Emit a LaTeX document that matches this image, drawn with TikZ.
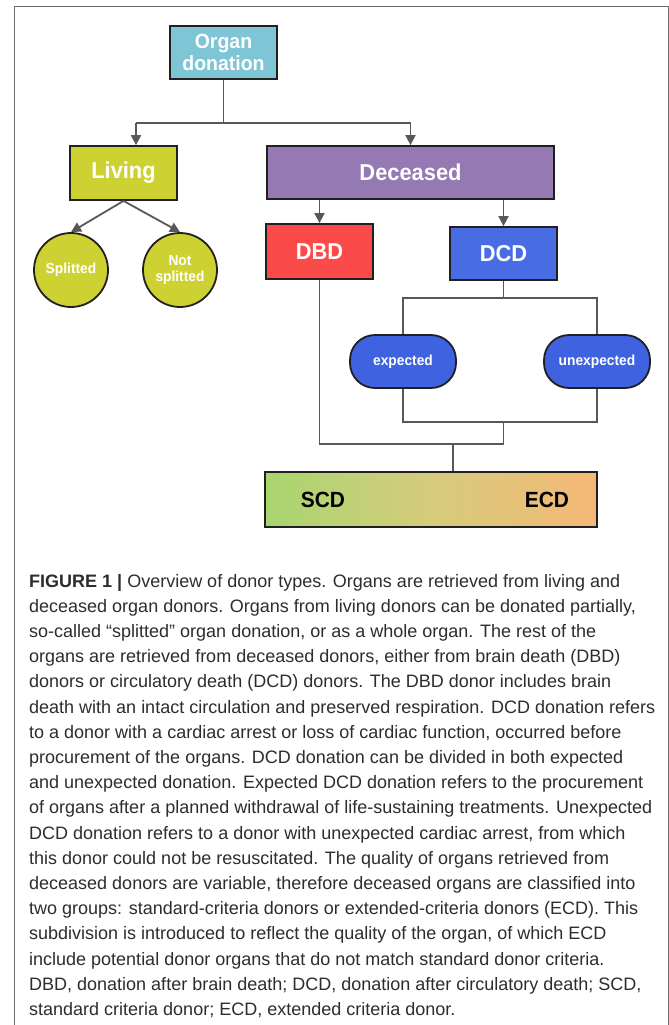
\documentclass[tikz,border=0pt]{standalone}
\usepackage{fontspec}
\setmainfont{Liberation Sans}
\newfontfamily\dfont[FakeStretch=0.95]{Liberation Sans}
\newfontfamily\cfont{Liberation Sans}
\usetikzlibrary{arrows.meta,positioning}
\definecolor{orgc}{RGB}{126,197,214}
\definecolor{livc}{RGB}{205,210,50}
\definecolor{decc}{RGB}{148,121,178}
\definecolor{dbdc}{RGB}{250,74,74}
\definecolor{dcdc}{RGB}{72,108,228}
\definecolor{expc}{RGB}{62,98,224}
\definecolor{barl}{RGB}{168,213,112}
\definecolor{barm}{RGB}{214,204,124}
\definecolor{barr}{RGB}{245,184,118}
\definecolor{linec}{RGB}{88,88,88}
\definecolor{edgec}{RGB}{32,32,32}
\definecolor{capc}{RGB}{45,45,45}
\definecolor{framec}{RGB}{110,110,110}
\tikzset{
  box/.style={draw=edgec, line width=1.8pt, rectangle, inner sep=0pt, text=white,
    font=\dfont\bfseries\fontsize{23}{25}\selectfont, align=center},
  blob/.style={draw=edgec, line width=1.8pt, circle, minimum size=74pt, inner sep=0pt,
    fill=livc, text=white, font=\dfont\bfseries\fontsize{14.5}{16.5}\selectfont, align=center},
  pill/.style={draw=edgec, line width=1.8pt, rectangle, rounded corners=25pt,
    minimum width=106pt, minimum height=53pt, inner sep=0pt, fill=expc, text=white,
    font=\dfont\bfseries\fontsize{14.5}{16.5}\selectfont},
  conn/.style={draw=linec, line width=1.8pt},
  arr/.style={conn, -{Triangle[length=10pt,width=10pt]}},
  captxt/.style={anchor=base west, inner sep=0pt, text=capc, font=\cfont\fontsize{18}{25}\selectfont},
}
\begin{document}
\begin{tikzpicture}[x=1pt,y=-1pt]
\useasboundingbox (0,0) rectangle (669,1025);
\fill[white] (0,0) rectangle (669,1025);
\draw[framec, line width=1pt] (14,1026) -- (14,7) -- (668,7) -- (668,1026);

% nodes
\node[box, fill=orgc, minimum width=107pt, minimum height=53pt,
      font=\dfont\bfseries\fontsize{20.5}{21.5}\selectfont] (org) at (223.5,52.5) {Organ\\donation};
\node[box, fill=livc, minimum width=107pt, minimum height=54pt] (liv) at (123.5,173) {Living};
\node[box, fill=decc, minimum width=287pt, minimum height=53pt] (dec) at (410.5,172.5) {Deceased};
\node[box, fill=dbdc, minimum width=107pt, minimum height=55pt] (dbd) at (319.5,251.5) {DBD};
\node[box, fill=dcdc, minimum width=107pt, minimum height=53pt] (dcd) at (503.5,253.5) {DCD};
\node[blob] (spl) at (71,270) {Splitted};
\node[blob] (nsp) at (180,270) {Not\\splitted};
\node[pill] (exp) at (403,361.5) {expected};
\node[pill] (unx) at (597,361.5) {unexpected};
\node[draw=edgec, line width=1.8pt, rectangle, minimum width=332pt, minimum height=55pt,
      left color=barl, right color=barr, middle color=barm] (bar) at (431,499.5) {};
\node[font=\dfont\bfseries\fontsize{22}{24}\selectfont, text=black] (scd) at (323,500) {SCD};
\node[font=\dfont\bfseries\fontsize{22}{24}\selectfont, text=black] (ecd) at (547,500) {ECD};

% connectors
\coordinate (jL) at (136,123);
\coordinate (jR) at (dec.north |- jL);
\draw[conn] (org.south) -- (org.south |- jL);
\draw[conn] (jL) -- (jR);
\draw[arr] (jL) -- (jL |- liv.north);
\draw[arr] (jR) -- (dec.north);
\draw[arr] (liv.south) -- (spl.north);
\draw[arr] (liv.south) -- (nsp.north);
\draw[arr] (dbd.north |- dec.south) -- (dbd.north);
\draw[arr] (dcd.north |- dec.south) -- (dcd.north);

\coordinate (jD) at (503.5,298);
\draw[conn] (dcd.south) -- (jD);
\draw[conn] (exp.north) -- (exp.north |- jD) -- (unx.north |- jD) -- (unx.north);
\coordinate (jE) at (503.5,422);
\draw[conn] (exp.south) -- (exp.south |- jE) -- (unx.south |- jE) -- (unx.south);
\coordinate (jF) at (503.5,444);
\draw[conn] (jE) -- (jF);
\draw[conn] (dbd.south) -- (dbd.south |- jF) -- (jF);
\coordinate (jB) at (453,444);
\draw[conn] (jB) -- (jB |- bar.north);

% caption
\node[captxt] (c1) at (29,587) {{\bfseries FIGURE 1 |} Overview of donor types. Organs are retrieved from living and};
\node[captxt] (c2) at (29,612.2) {deceased organ donors. Organs from living donors can be donated partially,};
\node[captxt] (c3) at (29,637.4) {so-called “splitted” organ donation, or as a whole organ. The rest of the};
\node[captxt] (c4) at (29,662.6) {organs are retrieved from deceased donors, either from brain death (DBD)};
\node[captxt] (c5) at (29,687.8) {donors or circulatory death (DCD) donors. The DBD donor includes brain};
\node[captxt] (c6) at (29,713) {death with an intact circulation and preserved respiration. DCD donation refers};
\node[captxt] (c7) at (29,738.2) {to a donor with a cardiac arrest or loss of cardiac function, occurred before};
\node[captxt] (c8) at (29,763.4) {procurement of the organs. DCD donation can be divided in both expected};
\node[captxt] (c9) at (29,788.6) {and unexpected donation. Expected DCD donation refers to the procurement};
\node[captxt] (c10) at (29,813.8) {of organs after a planned withdrawal of life-sustaining treatments. Unexpected};
\node[captxt] (c11) at (29,839) {DCD donation refers to a donor with unexpected cardiac arrest, from which};
\node[captxt] (c12) at (29,864.2) {this donor could not be resuscitated. The quality of organs retrieved from};
\node[captxt] (c13) at (29,889.4) {deceased donors are variable, therefore deceased organs are classified into};
\node[captxt] (c14) at (29,914.6) {two groups: standard-criteria donors or extended-criteria donors (ECD). This};
\node[captxt] (c15) at (29,939.8) {subdivision is introduced to reflect the quality of the organ, of which ECD};
\node[captxt] (c16) at (29,965) {include potential donor organs that do not match standard donor criteria.};
\node[captxt] (c17) at (29,990.2) {DBD, donation after brain death; DCD, donation after circulatory death; SCD,};
\node[captxt] (c18) at (29,1015.4) {standard criteria donor; ECD, extended criteria donor.};
\end{tikzpicture}
\end{document}
